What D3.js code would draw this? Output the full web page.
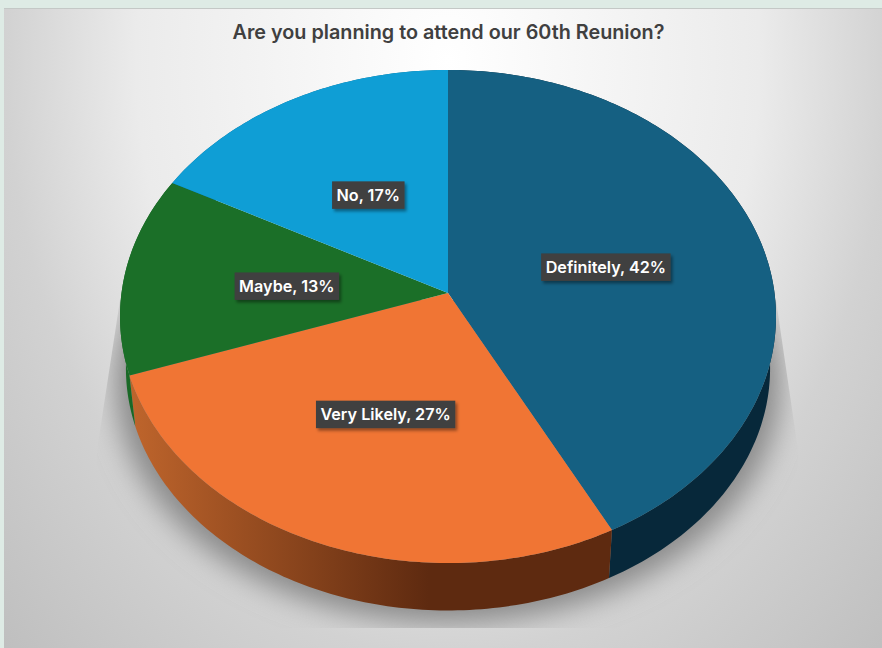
<!DOCTYPE html>
<html>
<head>
<meta charset="utf-8">
<script src="https://cdnjs.cloudflare.com/ajax/libs/d3/7.8.5/d3.min.js"></script>
<style>
  html, body { margin: 0; padding: 0; background: #deebe5; overflow: hidden; }
  svg { display: block; }
</style>
</head>
<body>
<svg id="chart" width="882" height="648"></svg>
<script>
const title = "Are you planning to attend our 60th Reunion?";
const categories = ["Definitely", "Very Likely", "Maybe", "No"];
const shares = [42.4, 27.3, 13.1, 17.2];
const topColors = ["#156082", "#f07534", "#1b6f28", "#0f9ed5"];
const sideLight = ["#07283a", "#bf652c", "#1a6b27", "#0a6a90"];
const sideDark = ["#07283a", "#5e2a10", "#176224", "#0a6a90"];

const width = 882, height = 648;
const svg = d3.select("#chart");
const defs = svg.append("defs");

// panel background
const bg = defs.append("radialGradient").attr("id", "panelBg")
  .attr("gradientUnits", "userSpaceOnUse")
  .attr("cx", 0).attr("cy", 0).attr("r", 1.25)
  .attr("gradientTransform", "translate(448,60) scale(520,700)");
bg.append("stop").attr("offset", 0).attr("stop-color", "#ffffff");
bg.append("stop").attr("offset", 0.48).attr("stop-color", "#ebebeb");
bg.append("stop").attr("offset", 0.68).attr("stop-color", "#d2d2d2");
bg.append("stop").attr("offset", 1).attr("stop-color", "#bcbcbc");

svg.append("rect").attr("x", 4).attr("y", 9).attr("width", width - 4).attr("height", height - 9)
  .attr("fill", "url(#panelBg)");
svg.append("line").attr("x1", 4).attr("x2", width).attr("y1", 8.5).attr("y2", 8.5)
  .attr("stroke", "#c4c8c6");

svg.append("text").attr("x", 448.5).attr("y", 39).attr("text-anchor", "middle")
  .attr("font-family", "Inter, 'Noto Sans', sans-serif").attr("font-weight", 600)
  .attr("font-size", 19.8).attr("fill", "#404040").text(title);

// pie seen in perspective: the centre sits above the middle of the ellipse
const cx = 448, cy = 293, Sx = 326.5, Sy = 244.3, tilt = 0.0953;
const sideScale = 0.982, sideY = 345.3;

const x = d3.scaleLinear().domain([-1, 1]).range([cx - Sx, cx + Sx]);
const y = d3.scaleLinear().domain([-1, 1]).range([cy + Sy, cy - Sy]);

function project(angle, r) {
  const u = r * Math.sin(angle), v = r * Math.cos(angle);
  const w = 1 + tilt * v;
  return [x(u / w), y(v / w)];
}
function lower(p) {
  return [cx + sideScale * (p[0] - cx), sideY + sideScale * (p[1] - cy)];
}
function rimPoints(a0, a1) {
  const n = Math.max(2, Math.ceil((a1 - a0) * 60));
  return d3.range(n + 1).map(i => project(a0 + (a1 - a0) * i / n, 1));
}

const pie = d3.pie().sort(null).value(d => d.share);
const slices = pie(categories.map((c, i) => ({ name: c, share: shares[i], index: i })));
const line = d3.line();

// soft shadow under the pie
defs.append("filter").attr("id", "blur").attr("x", "-20%").attr("y", "-20%")
  .attr("width", "140%").attr("height", "140%")
  .append("feGaussianBlur").attr("stdDeviation", 14);
defs.append("clipPath").attr("id", "shadowClip").append("path")
  .attr("d", line([[120, 300], [97, 450], [97, 628], [798, 628], [798, 450], [776, 300]]) + "Z");
const rimAll = rimPoints(0, 2 * Math.PI).map(lower);
svg.append("g").attr("clip-path", "url(#shadowClip)")
  .append("path")
  .attr("d", line(rimAll.map(p => [cx + 1.035 * (p[0] - cx), p[1] + 13])) + "Z")
  .attr("fill", "#8a8a8a")
  .attr("filter", "url(#blur)");

// side wall
slices.forEach(s => {
  const i = s.data.index;
  const rim = rimPoints(s.startAngle, s.endAngle);
  const xs = d3.extent(rim, p => p[0]);
  const id = "side" + i;
  const g = defs.append("linearGradient").attr("id", id)
    .attr("gradientUnits", "userSpaceOnUse")
    .attr("x1", xs[0]).attr("x2", xs[0] + (xs[1] - xs[0]) * 0.62).attr("y1", 0).attr("y2", 0);
  g.append("stop").attr("offset", 0).attr("stop-color", sideLight[i]);
  g.append("stop").attr("offset", 1).attr("stop-color", sideDark[i]);
  svg.append("path")
    .attr("d", line(rim.concat(rim.map(lower).reverse())) + "Z")
    .attr("fill", "url(#" + id + ")");
});

// top faces
slices.forEach(s => {
  const rim = rimPoints(s.startAngle, s.endAngle);
  svg.append("path")
    .attr("d", line([[cx, cy]].concat(rim)) + "Z")
    .attr("fill", topColors[s.data.index]);
});

// data labels
const labelShadow = defs.append("filter").attr("id", "labelShadow")
  .attr("x", "-20%").attr("y", "-30%").attr("width", "140%").attr("height", "170%");
labelShadow.append("feDropShadow").attr("dx", 2).attr("dy", 2.5).attr("stdDeviation", 1.6)
  .attr("flood-color", "#000").attr("flood-opacity", 0.4);

const pct = d3.format(".0f");
slices.forEach(s => {
  const mid = (s.startAngle + s.endAngle) / 2;
  const p = project(mid, 0.5);
  const g = svg.append("g").attr("transform", `translate(${p[0] + 1},${p[1] + 2.5})`);
  const rect = g.append("rect").attr("fill", "#404040").attr("filter", "url(#labelShadow)");
  const text = g.append("text").attr("text-anchor", "middle").attr("dy", "0.35em")
    .attr("font-family", "Inter, 'Noto Sans', sans-serif").attr("font-weight", 600)
    .attr("font-size", 16.2).attr("fill", "#ffffff")
    .text(`${s.data.name}, ${pct(s.data.share)}%`);
  const w = text.node().getComputedTextLength() + 9;
  rect.attr("x", -w / 2).attr("y", -13.5).attr("width", w).attr("height", 27.5);
});
</script>
</body>
</html>
